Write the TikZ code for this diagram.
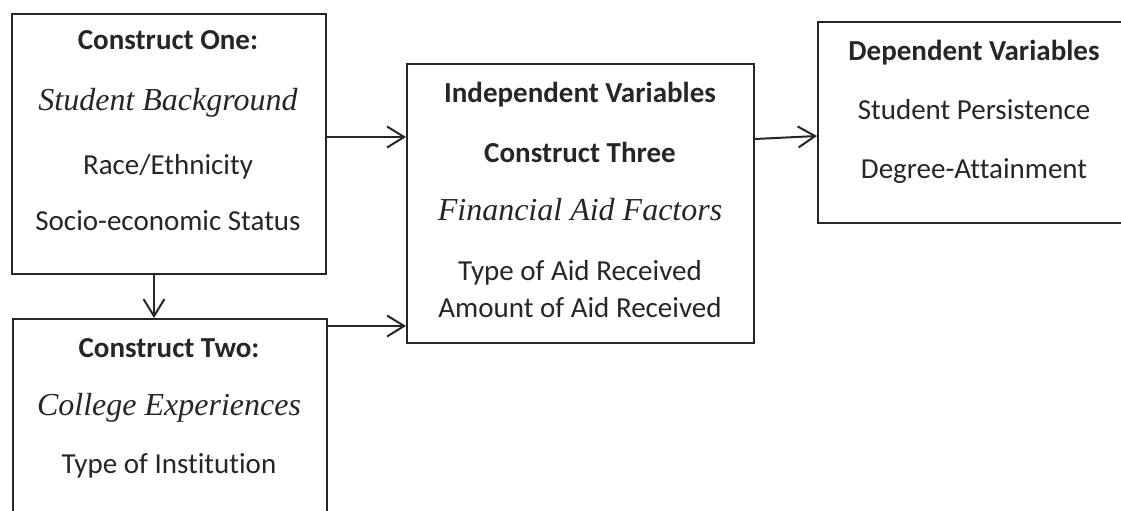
\documentclass[tikz,border=0pt]{standalone}
\usepackage{fontspec}
\setmainfont{Carlito}[Ligatures=NoCommon]
\newfontfamily\itfont{Liberation Serif}
\usetikzlibrary{arrows.meta}

\begin{document}
\begin{tikzpicture}[x=1pt,y=-1pt]
  \tikzset{>={Straight Barb[length=17pt,width=21pt,line width=2pt]}}
  \tikzset{box/.style={draw=black!85, line width=2pt, anchor=north west, inner sep=0pt},
           link/.style={->, line width=2pt, black!85},
           txt/.style={anchor=base, font=\fontsize{29}{34}\selectfont, text=black!85},
           head/.style={txt, font=\fontsize{29}{34}\selectfont\bfseries},
           construct/.style={txt, font=\fontsize{32}{38}\selectfont\itfont\itshape}}
    \useasboundingbox (0,0) rectangle (1121,511);
    \clip (0,0) rectangle (1121,511);
    % Boxes
    \node [box, minimum width=314pt, minimum height=260pt] (construct-one) at (11,13) {};
    \node [box, minimum width=314pt, minimum height=230pt] (construct-two) at (12,318) {};
    \node [box, minimum width=347pt, minimum height=279pt] (construct-three) at (406,63) {};
    \node [box, minimum width=314pt, minimum height=201pt] (dependent) at (817,21) {};
    % Construct One
    \node [head] (one-title) at (168,49) {Construct One:};
    \node [construct] (one-name) at (168,110) {Student Background};
    \node [txt] (race) at (168,174) {Race/Ethnicity};
    \node [txt] (ses) at (168,230) {Socio-economic Status};
    % Construct Two
    \node [head] (two-title) at (169,357) {Construct Two:};
    \node [construct] (two-name) at (169,415) {College Experiences};
    \node [txt] (institution) at (169,473) {Type of Institution};
    % Construct Three
    \node [head] (three-iv) at (580,102) {Independent Variables};
    \node [head] (three-title) at (580,162) {Construct Three};
    \node [construct] (three-name) at (580,220) {Financial Aid Factors};
    \node [txt] (aid-type) at (580,280) {Type of Aid Received};
    \node [txt] (aid-amount) at (580,317) {Amount of Aid Received};
    % Dependent Variables
    \node [head] (dv-title) at (974,60) {Dependent Variables};
    \node [txt] (persistence) at (974,119) {Student Persistence};
    \node [txt] (attainment) at (974,178) {Degree-Attainment};
    % Arrows
    \draw[link] (construct-one.east |- 0,137) -- (construct-three.west |- 0,137);
    \draw[link] (construct-two.east |- 0,326) -- (construct-three.west |- 0,326);
    \draw[link] (construct-one.south -| 154,0) -- (construct-two.north -| 154,0);
    \draw[link] (construct-three.east |- 0,139) -- (dependent.west |- 0,136);
  \end{tikzpicture}
\end{document}
